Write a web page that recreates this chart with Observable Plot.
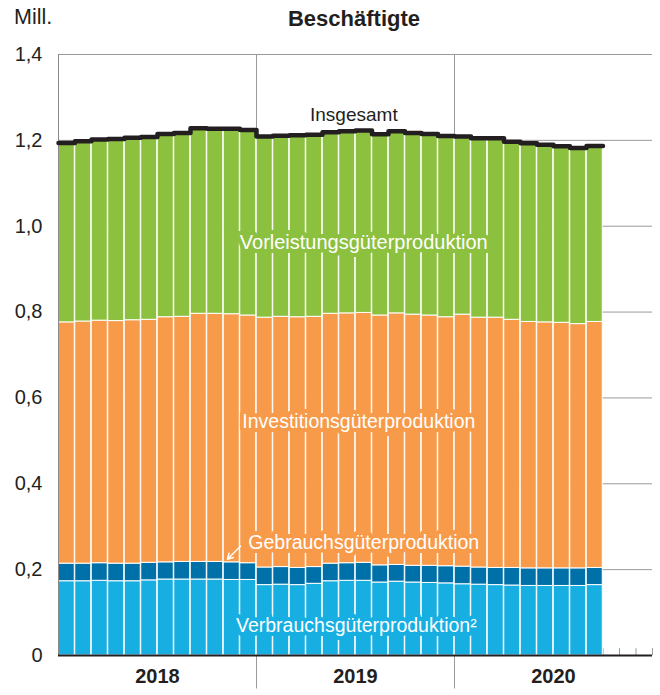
<!DOCTYPE html>
<html><head><meta charset="utf-8">
<script src="https://cdn.jsdelivr.net/npm/d3@7"></script>
<script src="https://cdn.jsdelivr.net/npm/@observablehq/plot@0.6"></script>
<style>
body{margin:0;background:#fff;}
#wrap{position:relative;width:660px;height:695px;font-family:"Liberation Sans",Arial,sans-serif;color:#231f20;}
#unit{position:absolute;left:14px;top:7px;font-size:21.5px;line-height:21.5px;}
#title{position:absolute;left:254px;width:200px;top:7.5px;text-align:center;font-size:22px;line-height:22px;font-weight:bold;}
#chart{position:absolute;left:0;top:0;}
</style></head><body>
<div id="wrap"><div id="chart"></div><div id="unit">Mill.</div><div id="title">Beschäftigte</div></div>
<script>
const months = ["2018-01","2018-02","2018-03","2018-04","2018-05","2018-06","2018-07","2018-08","2018-09","2018-10","2018-11","2018-12",
"2019-01","2019-02","2019-03","2019-04","2019-05","2019-06","2019-07","2019-08","2019-09","2019-10","2019-11","2019-12",
"2020-01","2020-02","2020-03","2020-04","2020-05","2020-06","2020-07","2020-08","2020-09"];
const years = ["2018","2019","2020"];
const verbrauch = [0.173,0.173,0.174,0.173,0.173,0.175,0.177,0.177,0.177,0.177,0.176,0.176,0.164,0.165,0.164,0.167,0.173,0.174,0.174,0.170,0.172,0.170,0.169,0.168,0.166,0.165,0.164,0.163,0.162,0.162,0.162,0.162,0.164];
const gebrauch = [0.041,0.041,0.041,0.041,0.041,0.041,0.040,0.041,0.041,0.041,0.041,0.039,0.041,0.041,0.040,0.039,0.041,0.041,0.042,0.040,0.039,0.039,0.040,0.040,0.041,0.040,0.040,0.041,0.041,0.041,0.041,0.041,0.040];
const investition = [0.562,0.564,0.565,0.565,0.567,0.566,0.571,0.571,0.578,0.578,0.578,0.577,0.582,0.583,0.584,0.583,0.582,0.582,0.582,0.582,0.586,0.585,0.583,0.580,0.587,0.582,0.583,0.578,0.574,0.573,0.572,0.569,0.573];
const vorleistung = [0.418,0.420,0.422,0.424,0.425,0.426,0.427,0.428,0.432,0.431,0.432,0.432,0.422,0.422,0.424,0.424,0.423,0.424,0.425,0.422,0.424,0.423,0.423,0.422,0.415,0.418,0.418,0.415,0.416,0.414,0.411,0.410,0.410];
const seriesNames = ["Verbrauchsgüterproduktion","Gebrauchsgüterproduktion","Investitionsgüterproduktion","Vorleistungsgüterproduktion"];
const seriesColors = ["#17afe1","#0071a8","#f79a4a","#8cc03f"];
const yTicks = [0,0.2,0.4,0.6,0.8,1.0,1.2,1.4];
const yTickLabels = ["0","0,2","0,4","0,6","0,8","1,0","1,2","1,4"];

const seriesValues = [verbrauch, gebrauch, investition, vorleistung];
const rows = [];
const totals = months.map(() => 0);
seriesValues.forEach((vals, s) => {
  vals.forEach((v, i) => {
    rows.push({series: seriesNames[s], x1: i, x2: i + 1, y1: totals[i], y2: totals[i] + v});
    totals[i] += v;
  });
});
const totalPts = [];
totals.forEach((t, i) => { totalPts.push({x: i, y: t}); totalPts.push({x: i + 1, y: t}); });
const nSlots = years.length * 12;
const yearBounds = years.map((y, i) => i * 12).filter(v => v > 0);
const monthBounds = d3.range(1, nSlots + 1);

const labels = [
  {text: "Vorleistungsgüterproduktion", x: 18.5, y: 0.961, halo: seriesColors[3], size: 20},
  {text: "Investitionsgüterproduktion", x: 18.2, y: 0.544, halo: seriesColors[2], size: 19.5},
  {text: "Gebrauchsgüterproduktion", x: 18.5, y: 0.262, halo: seriesColors[2], size: 19.5},
  {text: "Verbrauchsgüterproduktion²", x: 18.05, y: 0.070, halo: seriesColors[0], size: 19.5}
];

const font = '"Liberation Sans", Arial, sans-serif';
const chart = Plot.plot({
  width: 660, height: 695,
  marginLeft: 58, marginRight: 8, marginTop: 54, marginBottom: 40,
  x: {type: "linear", domain: [0, nSlots], axis: null},
  y: {domain: [0, 1.4], axis: null},
  color: {domain: seriesNames, range: seriesColors},
  style: {fontFamily: font, background: "transparent", color: "#231f20"},
  marks: [
    Plot.ruleY(yTicks.slice(1), {stroke: "#9a9a9a", strokeWidth: 1}),
    Plot.ruleX(yearBounds, {y1: 1.4, y2: -0.078, stroke: "#9a9a9a", strokeWidth: 1}),
    Plot.ruleX(monthBounds, {y1: 0, y2: 0.016, stroke: "#9a9a9a", strokeWidth: 1}),
    Plot.rect(rows, {x1: "x1", x2: "x2", y1: "y1", y2: "y2", fill: "series", stroke: "white", strokeWidth: 1, insetLeft: 0.25, insetRight: 0.25}),
    Plot.ruleX([0], {y1: 0, y2: 1.4, stroke: "#8a8a8a", strokeWidth: 1}),
    Plot.line(totalPts, {x: "x", y: "y", stroke: "#231f20", strokeWidth: 4.5}),
    Plot.ruleY([0], {stroke: "#231f20", strokeWidth: 2}),
    Plot.text(yTicks, {y: d => d, text: (d, i) => yTickLabels[i], frameAnchor: "left", textAnchor: "end", dx: -16, fontSize: 20, fill: "#231f20"}),
    Plot.text(years, {x: (d, i) => i * 12 + 6, text: d => d, frameAnchor: "bottom", dy: 27, fontSize: 20, fontWeight: "bold", fill: "#231f20"}),
    Plot.text(labels, {x: "x", y: "y", text: "text", fill: "white", stroke: "halo", strokeWidth: 8, fontSize: d => d.size}),
    Plot.arrow([{x1: 11.03, y1: 0.2547, x2: 10.24, y2: 0.2244}], {x1: "x1", y1: "y1", x2: "x2", y2: "y2", stroke: "white", strokeWidth: 1.5, headLength: 7}),
    Plot.text(["Insgesamt"], {x: 17.9, y: 1.2585, text: d => d, fontSize: 19, fill: "#231f20"})
  ]
});
document.getElementById("chart").appendChild(chart);
</script></body></html>
